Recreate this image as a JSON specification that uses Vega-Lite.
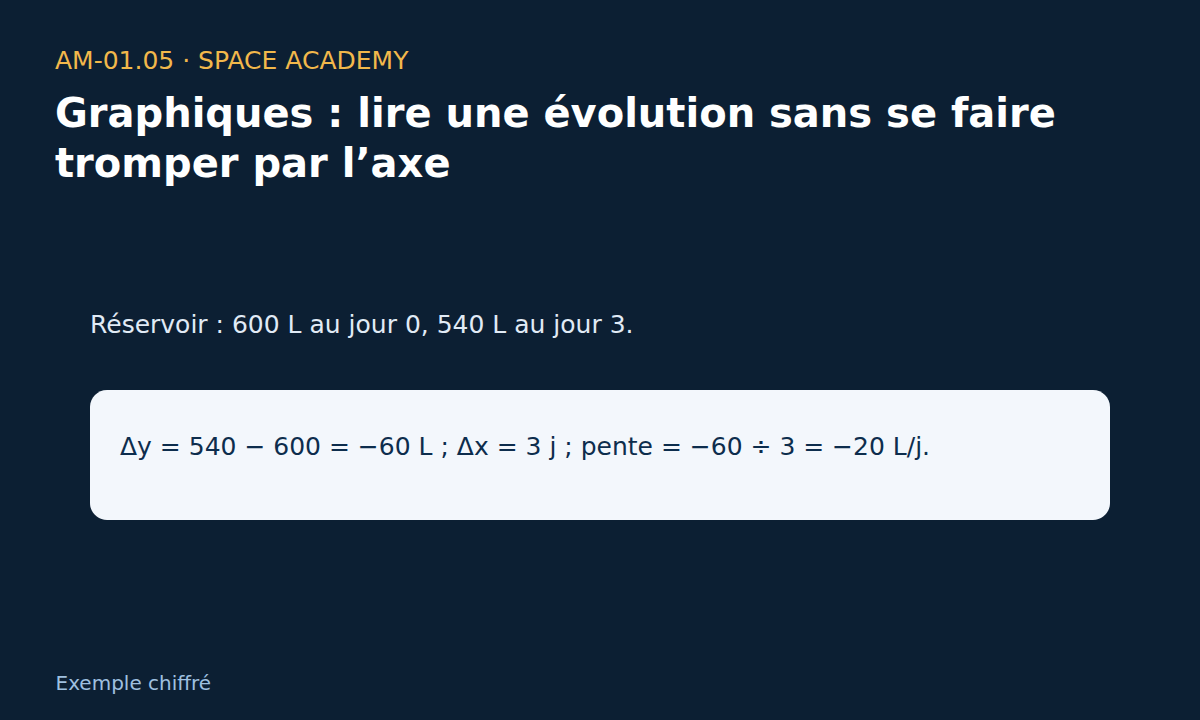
{
  "$schema": "https://vega.github.io/schema/vega-lite/v6.json",
  "autosize": {"type": "none"},
  "padding": {"left": 90, "top": 260, "right": 90, "bottom": 200},
  "width": 1020,
  "height": 260,
  "background": "#0c1f33",
  "title": {
    "text": "AM-01.05 · SPACE ACADEMY",
    "subtitle": ["Graphiques : lire une évolution sans se faire", "tromper par l’axe"],
    "anchor": "start",
    "frame": "group",
    "dx": -35,
    "offset": 75,
    "font": "DejaVu Sans",
    "fontSize": 25,
    "fontWeight": "normal",
    "color": "#f2b84b",
    "subtitleFont": "DejaVu Sans",
    "subtitleFontSize": 40,
    "subtitleFontWeight": "bold",
    "subtitleColor": "#ffffff",
    "subtitleLineHeight": 50,
    "subtitlePadding": 21
  },
  "data": {
    "values": [
      {"row": "intro", "text": "Réservoir : 600 L au jour 0, 540 L au jour 3."},
      {"row": "calc", "text": "Δy = 540 − 600 = −60 L ; Δx = 3 j ; pente = −60 ÷ 3 = −20 L/j."}
    ]
  },
  "encoding": {
    "y": {
      "field": "row",
      "type": "nominal",
      "scale": {"domain": ["intro", "calc"], "paddingInner": 0, "paddingOuter": 0},
      "axis": null
    }
  },
  "layer": [
    {
      "transform": [{"filter": "datum.row === 'calc'"}],
      "mark": {"type": "rect", "fill": "#f3f7fc", "cornerRadius": 17},
      "encoding": {
        "x": {
          "datum": 0,
          "type": "quantitative",
          "scale": {"domain": [0, 1], "nice": false, "zero": false},
          "axis": {
            "title": "Exemple chiffré",
            "labels": false,
            "ticks": false,
            "domain": false,
            "grid": false,
            "titleFont": "DejaVu Sans",
            "titleFontSize": 20,
            "titleFontWeight": "normal",
            "titleColor": "#9fc0e0",
            "titleAnchor": "start",
            "titleAlign": "left",
            "titleBaseline": "alphabetic",
            "titleX": -35,
            "titleY": 169
          }
        },
        "x2": {"datum": 1}
      }
    },
    {
      "transform": [{"filter": "datum.row === 'intro'"}],
      "mark": {"type": "text", "align": "left", "baseline": "middle", "font": "DejaVu Sans", "fontSize": 25, "color": "#e1ebf6"},
      "encoding": {
        "x": {"datum": 0, "type": "quantitative"},
        "text": {"field": "text"}
      }
    },
    {
      "transform": [{"filter": "datum.row === 'calc'"}],
      "mark": {"type": "text", "align": "left", "baseline": "middle", "dx": 30, "dy": -8, "font": "DejaVu Sans", "fontSize": 25, "color": "#0d2d4d"},
      "encoding": {
        "x": {"datum": 0, "type": "quantitative"},
        "text": {"field": "text"}
      }
    }
  ],
  "config": {
    "view": {"stroke": null}
  }
}
